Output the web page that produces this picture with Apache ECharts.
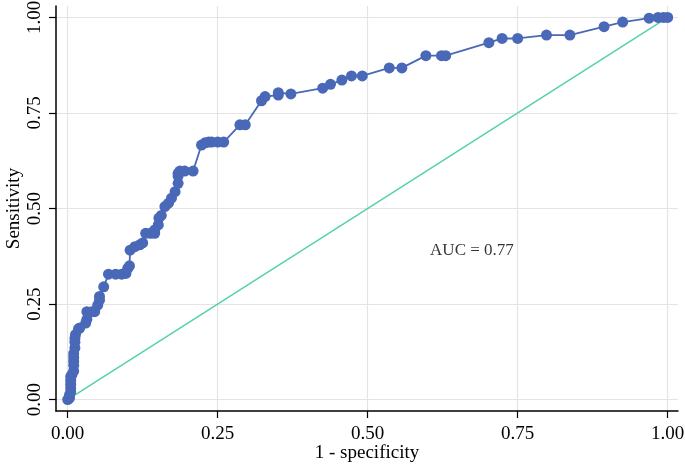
<!DOCTYPE html>
<html>
<head>
<meta charset="utf-8">
<script src="https://cdn.jsdelivr.net/npm/echarts@6/dist/echarts.min.js"></script>
<style>html,body{margin:0;padding:0;background:#fff}#c{width:685px;height:464px}</style>
</head>
<body>
<div id="c"></div>
<script>
// ROC curve: 1 - specificity (x) and sensitivity (y)
var fpr = [0,0.003,0.003,0.005,0.005,0.005,0.005,0.005,0.007,0.01,0.01,0.01,0.01,0.01,0.012,0.012,0.012,0.013,0.018,0.02,0.03,0.032,0.032,0.04,0.045,0.05,0.053,0.053,0.06,0.068,0.08,0.09,0.097,0.1,0.103,0.104,0.112,0.12,0.125,0.13,0.138,0.145,0.145,0.151,0.152,0.156,0.162,0.168,0.173,0.179,0.184,0.184,0.184,0.187,0.195,0.209,0.223,0.229,0.235,0.24,0.25,0.26,0.287,0.296,0.323,0.329,0.351,0.351,0.372,0.425,0.438,0.457,0.473,0.491,0.536,0.557,0.597,0.623,0.63,0.702,0.724,0.75,0.798,0.837,0.894,0.925,0.969,0.984,0.993,1];
var tpr = [0,0.004,0.012,0.02,0.03,0.04,0.05,0.06,0.065,0.075,0.09,0.1,0.11,0.12,0.135,0.15,0.16,0.17,0.185,0.187,0.2,0.21,0.23,0.23,0.23,0.247,0.26,0.27,0.295,0.328,0.328,0.328,0.33,0.343,0.35,0.391,0.4,0.405,0.41,0.435,0.435,0.435,0.444,0.457,0.475,0.482,0.505,0.514,0.527,0.544,0.566,0.585,0.592,0.598,0.598,0.598,0.666,0.672,0.674,0.674,0.674,0.674,0.719,0.719,0.782,0.793,0.797,0.803,0.8,0.815,0.825,0.836,0.847,0.847,0.868,0.868,0.9,0.9,0.9,0.934,0.945,0.945,0.954,0.954,0.976,0.988,0.998,1,1,1];
var refX = [0,1];
var refY = [0,1];
var tickVals = [0,0.25,0.5,0.75,1];
var aucText = 'AUC = 0.77';
var aucPos = [0.604, 0.389];
var xName = '1 - specificity';
var yName = 'Sensitivity';

var rocData = fpr.map(function(x,i){return [x,tpr[i]];});
var refData = refX.map(function(x,i){return [x,refY[i]];});
var font = '"Liberation Serif", "Times New Roman", serif';

var chart = echarts.init(document.getElementById('c'), null, {renderer:'canvas'});
function axisCommon(){
  return {
    type:'value',
    axisLine:{show:true,onZero:false,lineStyle:{color:'#000',width:1.5}},
    axisTick:{show:true,length:7,customValues:tickVals,lineStyle:{color:'#000',width:1.2}},
    axisLabel:{customValues:tickVals,formatter:function(v){return v.toFixed(2);},color:'#000',fontFamily:font,fontSize:19,margin:11},
    splitLine:{show:true,lineStyle:{color:'#e4e4e4',width:1.2}},
    nameLocation:'middle',
    nameMoveOverlap:false,
    nameTextStyle:{color:'#000',fontFamily:font,fontSize:19}
  };
}
var xa = axisCommon();
xa.min = -0.0195; xa.max = 1.0172; xa.name = xName; xa.nameGap = 33;
xa.axisLabel.margin = 14;
var ya = axisCommon();
ya.min = -0.030; ya.max = 1.030; ya.name = yName; ya.nameGap = 32;
ya.axisLabel.rotate = 90;

chart.setOption({
  animation:false,
  backgroundColor:'#fff',
  grid:{left:56,right:7,top:6,bottom:53,containLabel:false,outerBoundsMode:'none'},
  xAxis:xa,
  yAxis:ya,
  series:[
    {type:'line',data:refData,symbol:'none',z:2,lineStyle:{color:'#55d3a4',width:1.5},silent:true},
    {type:'line',data:rocData,symbol:'circle',symbolSize:11,showSymbol:true,showAllSymbol:true,z:3,
     itemStyle:{color:'#4a68b8',borderWidth:0},lineStyle:{color:'#4a68b8',width:1.8},silent:true},
    {type:'scatter',data:[aucPos],symbolSize:0,z:4,silent:true,
     label:{show:true,position:'right',distance:0,formatter:aucText,color:'#000',fontFamily:font,fontSize:17}}
  ]
});
</script>
</body>
</html>
